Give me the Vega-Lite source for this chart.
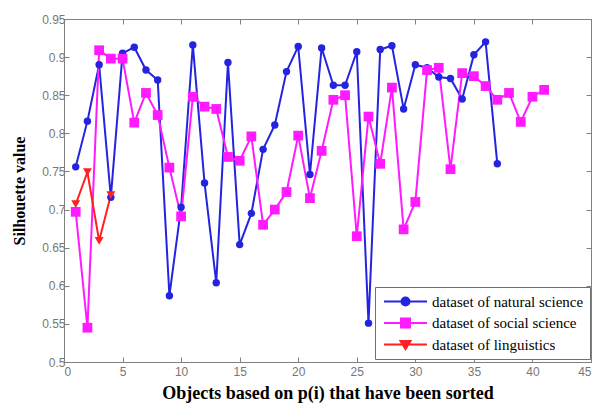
{
 "$schema": "https://vega.github.io/schema/vega-lite/v6.json",
 "width": 527, "height": 343,
 "autosize": "none",
 "padding": {"left": 64, "top": 19, "right": 4, "bottom": 41},
 "background": "white",
 "config": {
  "view": {"stroke": "#808080", "strokeWidth": 1},
  "axis": {"grid": false, "domainColor": "#808080", "tickColor": "#808080", "labelColor": "#777777", "labelFont": "Liberation Sans", "labelFontSize": 12, "titleFont": "Liberation Serif", "titleFontWeight": "bold", "titleFontSize": 18, "titleColor": "black", "tickSize": -5},
  "legend": {"orient": "none", "legendX": 311, "legendY": 268, "title": null, "strokeColor": "#707070", "fillColor": "white", "padding": 6,
             "symbolSize": 225, "symbolStrokeWidth": 2, "labelFont": "Liberation Serif", "labelFontSize": 15, "labelColor": "black", "rowPadding": 4.5, "labelOffset": 34}
 },
 "data": {"values": [
  {"s": "dataset of natural science", "x": 1, "y": 0.756},
  {"s": "dataset of natural science", "x": 2, "y": 0.816},
  {"s": "dataset of natural science", "x": 3, "y": 0.890},
  {"s": "dataset of natural science", "x": 4, "y": 0.716},
  {"s": "dataset of natural science", "x": 5, "y": 0.905},
  {"s": "dataset of natural science", "x": 6, "y": 0.913},
  {"s": "dataset of natural science", "x": 7, "y": 0.883},
  {"s": "dataset of natural science", "x": 8, "y": 0.870},
  {"s": "dataset of natural science", "x": 9, "y": 0.587},
  {"s": "dataset of natural science", "x": 10, "y": 0.703},
  {"s": "dataset of natural science", "x": 11, "y": 0.916},
  {"s": "dataset of natural science", "x": 12, "y": 0.735},
  {"s": "dataset of natural science", "x": 13, "y": 0.604},
  {"s": "dataset of natural science", "x": 14, "y": 0.893},
  {"s": "dataset of natural science", "x": 15, "y": 0.654},
  {"s": "dataset of natural science", "x": 16, "y": 0.695},
  {"s": "dataset of natural science", "x": 17, "y": 0.779},
  {"s": "dataset of natural science", "x": 18, "y": 0.811},
  {"s": "dataset of natural science", "x": 19, "y": 0.881},
  {"s": "dataset of natural science", "x": 20, "y": 0.914},
  {"s": "dataset of natural science", "x": 21, "y": 0.746},
  {"s": "dataset of natural science", "x": 22, "y": 0.912},
  {"s": "dataset of natural science", "x": 23, "y": 0.863},
  {"s": "dataset of natural science", "x": 24, "y": 0.863},
  {"s": "dataset of natural science", "x": 25, "y": 0.907},
  {"s": "dataset of natural science", "x": 26, "y": 0.551},
  {"s": "dataset of natural science", "x": 27, "y": 0.910},
  {"s": "dataset of natural science", "x": 28, "y": 0.915},
  {"s": "dataset of natural science", "x": 29, "y": 0.832},
  {"s": "dataset of natural science", "x": 30, "y": 0.890},
  {"s": "dataset of natural science", "x": 31, "y": 0.886},
  {"s": "dataset of natural science", "x": 32, "y": 0.874},
  {"s": "dataset of natural science", "x": 33, "y": 0.872},
  {"s": "dataset of natural science", "x": 34, "y": 0.845},
  {"s": "dataset of natural science", "x": 35, "y": 0.903},
  {"s": "dataset of natural science", "x": 36, "y": 0.920},
  {"s": "dataset of natural science", "x": 37, "y": 0.760},
  {"s": "dataset of social science", "x": 1, "y": 0.697},
  {"s": "dataset of social science", "x": 2, "y": 0.545},
  {"s": "dataset of social science", "x": 3, "y": 0.909},
  {"s": "dataset of social science", "x": 4, "y": 0.898},
  {"s": "dataset of social science", "x": 5, "y": 0.898},
  {"s": "dataset of social science", "x": 6, "y": 0.814},
  {"s": "dataset of social science", "x": 7, "y": 0.853},
  {"s": "dataset of social science", "x": 8, "y": 0.824},
  {"s": "dataset of social science", "x": 9, "y": 0.755},
  {"s": "dataset of social science", "x": 10, "y": 0.691},
  {"s": "dataset of social science", "x": 11, "y": 0.848},
  {"s": "dataset of social science", "x": 12, "y": 0.835},
  {"s": "dataset of social science", "x": 13, "y": 0.832},
  {"s": "dataset of social science", "x": 14, "y": 0.769},
  {"s": "dataset of social science", "x": 15, "y": 0.764},
  {"s": "dataset of social science", "x": 16, "y": 0.796},
  {"s": "dataset of social science", "x": 17, "y": 0.680},
  {"s": "dataset of social science", "x": 18, "y": 0.700},
  {"s": "dataset of social science", "x": 19, "y": 0.723},
  {"s": "dataset of social science", "x": 20, "y": 0.797},
  {"s": "dataset of social science", "x": 21, "y": 0.715},
  {"s": "dataset of social science", "x": 22, "y": 0.777},
  {"s": "dataset of social science", "x": 23, "y": 0.844},
  {"s": "dataset of social science", "x": 24, "y": 0.850},
  {"s": "dataset of social science", "x": 25, "y": 0.665},
  {"s": "dataset of social science", "x": 26, "y": 0.822},
  {"s": "dataset of social science", "x": 27, "y": 0.760},
  {"s": "dataset of social science", "x": 28, "y": 0.860},
  {"s": "dataset of social science", "x": 29, "y": 0.674},
  {"s": "dataset of social science", "x": 30, "y": 0.710},
  {"s": "dataset of social science", "x": 31, "y": 0.883},
  {"s": "dataset of social science", "x": 32, "y": 0.886},
  {"s": "dataset of social science", "x": 33, "y": 0.753},
  {"s": "dataset of social science", "x": 34, "y": 0.879},
  {"s": "dataset of social science", "x": 35, "y": 0.875},
  {"s": "dataset of social science", "x": 36, "y": 0.862},
  {"s": "dataset of social science", "x": 37, "y": 0.844},
  {"s": "dataset of social science", "x": 38, "y": 0.853},
  {"s": "dataset of social science", "x": 39, "y": 0.815},
  {"s": "dataset of social science", "x": 40, "y": 0.848},
  {"s": "dataset of social science", "x": 41, "y": 0.857},
  {"s": "dataset of linguistics", "x": 1, "y": 0.707},
  {"s": "dataset of linguistics", "x": 2, "y": 0.749},
  {"s": "dataset of linguistics", "x": 3, "y": 0.659},
  {"s": "dataset of linguistics", "x": 4, "y": 0.719}
 ]},
 "layer": [
  {
   "mark": {"type": "line", "strokeWidth": 2},
   "encoding": {
    "x": {"field": "x", "type": "quantitative", "scale": {"domain": [0, 45], "nice": false},
          "axis": {"orient": "bottom", "values": [0,5,10,15,20,25,30,35,40,45], "labelPadding": 9, "title": "Objects based on p(i) that have been sorted", "titlePadding": 7}},
    "y": {"field": "y", "type": "quantitative", "scale": {"domain": [0.5, 0.95], "nice": false, "zero": false},
          "axis": {"orient": "left", "values": [0.5,0.55,0.6,0.65,0.7,0.75,0.8,0.85,0.9,0.95], "format": "~g", "labelPadding": 4, "title": "Silhouette value", "titleFontSize": 16, "titlePadding": 14}},
    "color": {"field": "s", "type": "nominal", "sort": null,
              "scale": {"domain": ["dataset of natural science", "dataset of social science", "dataset of linguistics"], "range": ["#2424e0", "#ff1aff", "#ff2020"]},
              "legend": {"symbolType": "stroke", "encode": {"symbols": {"update": {"shape": {"signal": "datum.value == 'dataset of natural science' ? 'M-0.733,0H5M1.6,0A0.533,0.533 0 1,1 2.667,0A0.533,0.533 0 1,1 1.6,0Z' : datum.value == 'dataset of social science' ? 'M-0.733,0H5M1.533,-0.6H2.733V0.6H1.533Z' : 'M-0.733,0H5M1.467,-0.47H2.8L2.133,0.6Z'"}, "fill": {"scale": "color", "field": "value"}, "stroke": {"scale": "color", "field": "value"}}}}}}
   }
  },
  {
   "transform": [{"filter": "datum.s == 'dataset of natural science'"}],
   "mark": {"type": "point", "filled": true, "opacity": 1, "shape": "circle", "size": 55},
   "encoding": {
    "x": {"field": "x", "type": "quantitative",
          "axis": {"orient": "top", "values": [0,5,10,15,20,25,30,35,40,45], "labels": false, "title": null}},
    "y": {"field": "y", "type": "quantitative",
          "axis": {"orient": "right", "values": [0.5,0.55,0.6,0.65,0.7,0.75,0.8,0.85,0.9,0.95], "labels": false, "title": null}},
    "color": {"field": "s", "type": "nominal", "sort": null}
   }
  },
  {
   "transform": [{"filter": "datum.s == 'dataset of social science'"}],
   "mark": {"type": "point", "filled": true, "opacity": 1, "shape": "square", "size": 95},
   "encoding": {
    "x": {"field": "x", "type": "quantitative", "axis": null},
    "y": {"field": "y", "type": "quantitative", "axis": null},
    "color": {"field": "s", "type": "nominal", "sort": null}
   }
  },
  {
   "transform": [{"filter": "datum.s == 'dataset of linguistics'"}],
   "mark": {"type": "point", "filled": true, "opacity": 1, "shape": "triangle-down", "size": 80},
   "encoding": {
    "x": {"field": "x", "type": "quantitative", "axis": null},
    "y": {"field": "y", "type": "quantitative", "axis": null},
    "color": {"field": "s", "type": "nominal", "sort": null}
   }
  }
 ],
 "resolve": {"axis": {"x": "independent", "y": "independent"}}
}
